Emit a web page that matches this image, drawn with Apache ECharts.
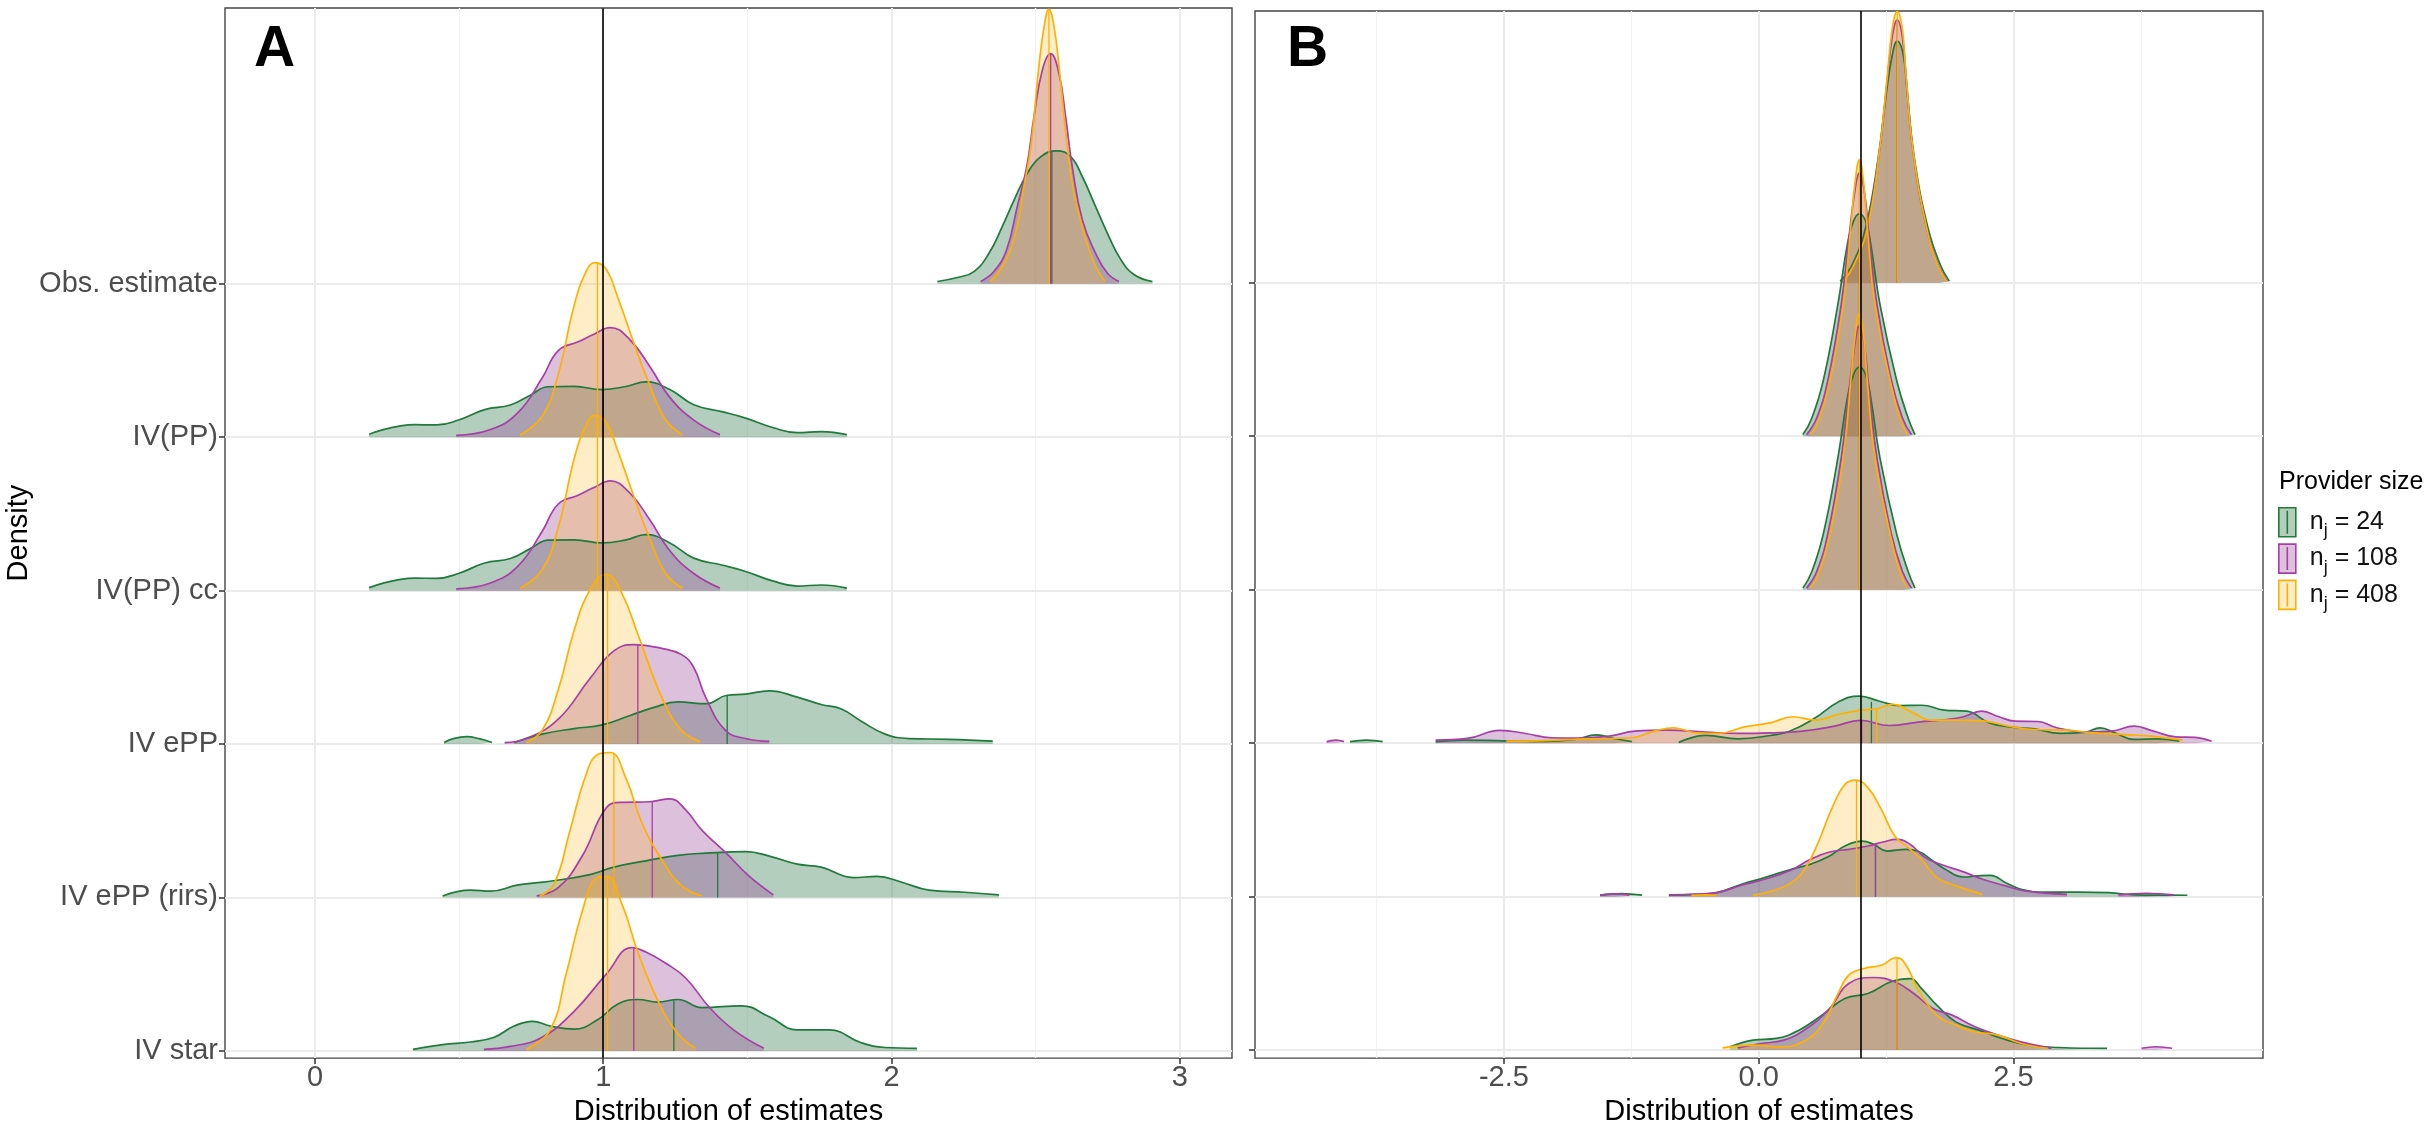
<!DOCTYPE html>
<html>
<head>
<meta charset="utf-8">
<title>Distribution of estimates</title>
<script src="https://cdn.jsdelivr.net/npm/echarts@6/dist/echarts.min.js"></script>
<style>
  html, body { margin: 0; padding: 0; background: #fff; }
  #chart { width: 2436px; height: 1131px; }
</style>
</head>
<body>
<div id="chart"></div>
<script>
// row labels, bottom (0) to top (5)
var rowNames = ['IV star', 'IV ePP (rirs)', 'IV ePP', 'IV(PP) cc', 'IV(PP)', 'Obs. estimate'];
var rowTicks = [0, 1, 2, 3, 4, 5];
var groupNames = ['n_j = 24', 'n_j = 108', 'n_j = 408'];
var groupSizes = ['24', '108', '408'];
var ticksA = [0, 1, 2, 3];
var minorA = [0.5, 1.5, 2.5];
var ticksB = [-2.5, 0, 2.5];
var minorB = [-3.75, -1.25, 1.25, 3.75];
var trueValue = 1;

// density ridges: [estimate, height above the row baseline]; null = gap
// ---- panel A
var aObsG = [[2.159,0.015],[2.228,0.041],[2.286,0.08],[2.338,0.199],[2.384,0.373],[2.425,0.546],[2.471,0.72],[2.517,0.828],[2.573,0.867],[2.622,0.828],[2.662,0.698],[2.703,0.525],[2.749,0.329],[2.796,0.156],[2.842,0.059],[2.905,0.015]];
var aObsP = [[2.309,0.015],[2.355,0.08],[2.399,0.221],[2.436,0.503],[2.469,0.763],[2.494,1.088],[2.523,1.392],[2.552,1.5],[2.581,1.37],[2.604,1.088],[2.627,0.763],[2.662,0.416],[2.708,0.199],[2.749,0.069],[2.789,0.015]];
var aObsY = [[2.341,0.015],[2.384,0.113],[2.43,0.33],[2.459,0.633],[2.483,0.893],[2.511,1.414],[2.529,1.674],[2.546,1.79],[2.564,1.674],[2.581,1.414],[2.61,0.893],[2.633,0.59],[2.668,0.33],[2.703,0.134],[2.74,0.015]];

var aPPG = [[0.188,0.02],[0.346,0.082],[0.423,0.08],[0.498,0.112],[0.589,0.18],[0.678,0.21],[0.747,0.274],[0.81,0.329],[0.899,0.331],[0.996,0.311],[1.079,0.331],[1.148,0.361],[1.231,0.311],[1.314,0.212],[1.411,0.167],[1.494,0.125],[1.59,0.062],[1.673,0.03],[1.756,0.037],[1.845,0.017]];
var aPPP = [[0.49,0.012],[0.609,0.05],[0.705,0.162],[0.788,0.386],[0.844,0.565],[0.913,0.622],[0.968,0.672],[1.024,0.715],[1.093,0.635],[1.162,0.46],[1.231,0.26],[1.314,0.112],[1.405,0.017]];
var aPPY = [[0.711,0.015],[0.788,0.137],[0.844,0.411],[0.899,0.859],[0.94,1.078],[0.971,1.138],[1.01,1.096],[1.051,0.909],[1.107,0.61],[1.162,0.336],[1.217,0.112],[1.275,0.017]];

var aPPccG = [[0.188,0.02],[0.346,0.082],[0.423,0.08],[0.498,0.112],[0.589,0.18],[0.678,0.21],[0.747,0.274],[0.81,0.33],[0.899,0.331],[0.996,0.311],[1.079,0.331],[1.148,0.365],[1.231,0.311],[1.314,0.212],[1.411,0.167],[1.494,0.125],[1.59,0.062],[1.673,0.03],[1.756,0.037],[1.845,0.017]];
var aPPccP = [[0.49,0.012],[0.609,0.05],[0.705,0.162],[0.788,0.386],[0.844,0.565],[0.913,0.622],[0.968,0.672],[1.024,0.715],[1.093,0.635],[1.162,0.46],[1.231,0.26],[1.314,0.112],[1.405,0.017]];
var aPPccY = [[0.711,0.015],[0.788,0.137],[0.844,0.411],[0.899,0.859],[0.94,1.078],[0.971,1.143],[1.01,1.096],[1.051,0.909],[1.107,0.61],[1.162,0.336],[1.217,0.112],[1.275,0.017]];

var aEPPG = [[0.448,0.01],[0.48,0.035],[0.526,0.048],[0.57,0.035],[0.614,0.01],null,[0.691,0.01],[0.788,0.065],[0.899,0.101],[0.996,0.125],[1.093,0.186],[1.176,0.239],[1.259,0.275],[1.355,0.263],[1.43,0.318],[1.494,0.325],[1.576,0.347],[1.673,0.306],[1.756,0.258],[1.826,0.229],[1.895,0.149],[1.978,0.065],[2.061,0.036],[2.199,0.031],[2.351,0.019]];
var aEPPP = [[0.658,0.01],[0.733,0.036],[0.844,0.162],[0.954,0.427],[1.037,0.607],[1.107,0.648],[1.203,0.624],[1.272,0.583],[1.314,0.499],[1.355,0.306],[1.424,0.089],[1.494,0.036],[1.576,0.017]];
var aEPPY = [[0.733,0.01],[0.788,0.089],[0.844,0.354],[0.899,0.74],[0.954,1.005],[1.01,1.107],[1.065,0.981],[1.12,0.716],[1.203,0.306],[1.272,0.089],[1.336,0.017]];

var aRirsG = [[0.443,0.01],[0.54,0.048],[0.609,0.041],[0.705,0.082],[0.816,0.106],[0.954,0.149],[1.037,0.198],[1.148,0.239],[1.259,0.275],[1.355,0.289],[1.494,0.299],[1.576,0.27],[1.673,0.217],[1.756,0.198],[1.867,0.13],[1.95,0.137],[2.033,0.101],[2.13,0.048],[2.254,0.034],[2.373,0.017]];
var aRirsP = [[0.769,0.01],[0.844,0.065],[0.927,0.27],[1.01,0.583],[1.065,0.62],[1.162,0.624],[1.231,0.643],[1.286,0.571],[1.342,0.439],[1.424,0.294],[1.507,0.137],[1.59,0.017]];
var aRirsY = [[0.78,0.01],[0.83,0.089],[0.885,0.439],[0.94,0.8],[0.982,0.933],[1.024,0.945],[1.079,0.776],[1.134,0.487],[1.203,0.246],[1.272,0.077],[1.342,0.01]];

var aStarG = [[0.34,0.01],[0.443,0.041],[0.54,0.058],[0.622,0.089],[0.691,0.162],[0.755,0.193],[0.816,0.162],[0.899,0.142],[0.982,0.205],[1.051,0.306],[1.12,0.335],[1.189,0.318],[1.259,0.335],[1.342,0.282],[1.48,0.294],[1.576,0.222],[1.673,0.137],[1.784,0.137],[1.895,0.053],[1.978,0.022],[2.088,0.017]];
var aStarP = [[0.586,0.01],[0.678,0.029],[0.788,0.089],[0.899,0.258],[1.01,0.499],[1.1,0.673],[1.148,0.644],[1.217,0.571],[1.286,0.475],[1.369,0.282],[1.452,0.137],[1.557,0.017]];
var aStarY = [[0.733,0.01],[0.816,0.137],[0.871,0.499],[0.927,0.909],[0.976,1.126],[1.01,1.138],[1.065,0.957],[1.12,0.644],[1.189,0.33],[1.259,0.113],[1.32,0.017]];

// medians [estimate, height] for green, purple, yellow
var aMedObs = [[2.556,0.86],[2.552,1.5],[2.546,1.79]];
var aMedPP = [[1.0,0.31],[1.0,0.7],[0.98,1.13]];
var aMedPPcc = [[1.0,0.31],[1.0,0.7],[0.98,1.13]];
var aMedEPP = [[1.43,0.318],[1.12,0.645],[1.015,1.1]];
var aMedRirs = [[1.397,0.29],[1.17,0.625],[1.037,0.935]];
var aMedStar = [[1.245,0.33],[1.106,0.67],[1.015,1.13]];

// ---- panel B
var bObsG = [[0.8,0.01],[0.92,0.12],[1.05,0.36],[1.17,0.8],[1.25,1.22],[1.31,1.48],[1.36,1.574],[1.42,1.48],[1.46,1.22],[1.53,0.8],[1.66,0.36],[1.78,0.12],[1.87,0.01]];
var bObsP = [[0.82,0.01],[0.93,0.11],[1.06,0.35],[1.18,0.83],[1.26,1.31],[1.31,1.6],[1.36,1.713],[1.41,1.6],[1.45,1.31],[1.52,0.83],[1.65,0.35],[1.765,0.11],[1.85,0.01]];
var bObsY = [[0.83,0.01],[0.928,0.106],[1.066,0.354],[1.184,0.85],[1.262,1.346],[1.31,1.65],[1.36,1.768],[1.41,1.65],[1.446,1.346],[1.517,0.85],[1.649,0.354],[1.763,0.106],[1.845,0.01]];

var bPPG = [[0.434,0.01],[0.52,0.115],[0.634,0.363],[0.777,0.859],[0.87,1.25],[0.93,1.4],[0.988,1.449],[1.05,1.4],[1.1,1.25],[1.19,0.859],[1.354,0.363],[1.468,0.115],[1.534,0.01]];
var bPPP = [[0.47,0.01],[0.57,0.12],[0.68,0.37],[0.81,0.86],[0.89,1.32],[0.94,1.58],[0.988,1.714],[1.04,1.58],[1.08,1.32],[1.16,0.86],[1.3,0.37],[1.41,0.12],[1.5,0.01]];
var bPPY = [[0.51,0.01],[0.595,0.115],[0.7,0.363],[0.83,0.859],[0.903,1.354],[0.945,1.65],[0.988,1.8],[1.03,1.65],[1.066,1.354],[1.141,0.859],[1.289,0.363],[1.387,0.115],[1.46,0.01]];

var bPPccG = [[0.434,0.01],[0.52,0.115],[0.634,0.363],[0.777,0.859],[0.87,1.25],[0.93,1.4],[0.988,1.45],[1.05,1.4],[1.1,1.25],[1.19,0.859],[1.354,0.363],[1.468,0.115],[1.534,0.01]];
var bPPccP = [[0.47,0.01],[0.57,0.12],[0.68,0.37],[0.81,0.86],[0.89,1.32],[0.94,1.58],[0.988,1.72],[1.04,1.58],[1.08,1.32],[1.16,0.86],[1.3,0.37],[1.41,0.12],[1.5,0.01]];
var bPPccY = [[0.51,0.01],[0.595,0.115],[0.7,0.363],[0.83,0.859],[0.903,1.354],[0.945,1.65],[0.988,1.8],[1.03,1.65],[1.066,1.354],[1.141,0.859],[1.289,0.363],[1.387,0.115],[1.46,0.01]];

var bEPPG = [[-4.01,0.01],[-3.85,0.02],[-3.69,0.01],null,[-3.17,0.01],[-2.9,0.02],[-2.5,0.015],[-2.1,0.012],[-1.8,0.025],[-1.593,0.054],[-1.42,0.03],[-1.245,0.01],null,[-0.784,0.005],[-0.518,0.05],[-0.203,0.028],[0.114,0.05],[0.303,0.078],[0.556,0.165],[0.777,0.267],[0.986,0.306],[1.188,0.273],[1.378,0.245],[1.6,0.247],[1.82,0.215],[2.042,0.208],[2.263,0.132],[2.485,0.104],[2.706,0.093],[2.958,0.063],[3.211,0.072],[3.35,0.1],[3.496,0.067],[3.685,0.024],[3.907,0.028],[4.128,0.013]];
var bEPPP = [[-4.24,0.01],[-4.15,0.02],[-4.07,0.01],null,[-3.17,0.02],[-2.857,0.031],[-2.54,0.083],[-2.288,0.063],[-2.035,0.035],[-1.783,0.033],[-1.466,0.046],[-1.214,0.078],[-0.898,0.085],[-0.518,0.072],[-0.203,0.063],[0.114,0.067],[0.43,0.078],[0.746,0.111],[0.999,0.148],[1.284,0.115],[1.567,0.137],[1.852,0.154],[2.01,0.172],[2.187,0.208],[2.358,0.172],[2.515,0.143],[2.737,0.141],[2.927,0.1],[3.211,0.072],[3.464,0.078],[3.685,0.111],[3.874,0.078],[4.095,0.041],[4.285,0.037],[4.444,0.013]];
var bEPPY = [[-2.478,0.013],[-2.098,0.017],[-1.656,0.028],[-1.245,0.035],[-1.024,0.078],[-0.834,0.1],[-0.613,0.067],[-0.392,0.063],[-0.139,0.106],[0.114,0.132],[0.335,0.172],[0.556,0.15],[0.777,0.187],[0.999,0.215],[1.157,0.224],[1.315,0.252],[1.504,0.202],[1.694,0.15],[1.946,0.15],[2.199,0.145],[2.452,0.111],[2.706,0.089],[3.022,0.085],[3.275,0.067],[3.591,0.056],[3.843,0.046],[4.159,0.02]];

var bRirsG = [[-1.557,0.01],[-1.35,0.02],[-1.145,0.01],null,[-0.881,0.01],[-0.6,0.015],[-0.412,0.026],[-0.168,0.081],[0.058,0.124],[0.321,0.178],[0.508,0.211],[0.696,0.265],[0.846,0.33],[1.015,0.362],[1.128,0.341],[1.259,0.297],[1.447,0.308],[1.56,0.297],[1.71,0.232],[1.822,0.182],[2.01,0.128],[2.142,0.135],[2.274,0.139],[2.424,0.091],[2.574,0.048],[2.762,0.03],[3.137,0.03],[3.437,0.026],[3.7,0.012],[4.0,0.01],[4.207,0.009]];
var bRirsP = [[-1.557,0.01],[-1.42,0.018],[-1.27,0.01],null,[-0.881,0.012],[-0.6,0.017],[-0.412,0.026],[-0.168,0.074],[0.058,0.113],[0.321,0.174],[0.508,0.243],[0.696,0.291],[0.884,0.308],[1.072,0.33],[1.222,0.356],[1.353,0.373],[1.485,0.341],[1.635,0.254],[1.785,0.211],[2.01,0.161],[2.198,0.113],[2.424,0.07],[2.611,0.037],[3.025,0.015],null,[3.53,0.012],[3.8,0.022],[4.076,0.012]];
var bRirsY = [[-0.66,0.008],[-0.53,0.012],[-0.41,0.008],null,[-0.055,0.01],[0.133,0.037],[0.321,0.091],[0.451,0.178],[0.583,0.351],[0.714,0.568],[0.846,0.731],[0.951,0.759],[1.072,0.71],[1.203,0.568],[1.335,0.395],[1.447,0.33],[1.598,0.243],[1.748,0.124],[1.935,0.07],[2.198,0.015]];

var bStarG = [[-0.281,0.022],[-0.055,0.065],[0.17,0.076],[0.395,0.13],[0.621,0.228],[0.846,0.336],[1.072,0.369],[1.297,0.445],[1.485,0.466],[1.598,0.401],[1.748,0.293],[1.935,0.184],[2.161,0.13],[2.386,0.076],[2.649,0.033],[2.949,0.017],[3.419,0.011]];
var bStarP = [[-0.205,0.015],[0.02,0.043],[0.245,0.065],[0.471,0.141],[0.696,0.271],[0.884,0.434],[1.128,0.473],[1.335,0.445],[1.522,0.369],[1.71,0.271],[1.898,0.228],[2.123,0.152],[2.348,0.098],[2.574,0.054],[2.874,0.011],null,[3.757,0.012],[3.9,0.022],[4.057,0.012]];
var bStarY = [[-0.355,0.015],[-0.055,0.033],[0.208,0.022],[0.433,0.054],[0.621,0.163],[0.771,0.358],[0.884,0.488],[1.034,0.532],[1.203,0.553],[1.353,0.603],[1.447,0.553],[1.56,0.401],[1.748,0.228],[1.935,0.163],[2.123,0.119],[2.348,0.098],[2.574,0.043],[2.837,0.011]];

var bMedObs = [[1.36,1.57],[1.36,1.71],[1.36,1.76]];
var bMedPP = [[0.99,1.445],[0.99,1.71],[0.99,1.795]];
var bMedPPcc = [[0.99,1.445],[0.99,1.71],[0.99,1.795]];
var bMedEPP = [[1.106,0.27],[1.01,0.148],[1.157,0.224]];
var bMedRirs = [[1.146,0.34],[1.146,0.35],[0.96,0.758]];
var bMedStar = [[1.357,0.45],[1.357,0.44],[1.357,0.603]];

// rows drawn top to bottom so lower ridges lie over upper ones
var rowsA = [
  [5, [aObsG, aObsP, aObsY], aMedObs],
  [4, [aPPG, aPPP, aPPY], aMedPP],
  [3, [aPPccG, aPPccP, aPPccY], aMedPPcc],
  [2, [aEPPG, aEPPP, aEPPY], aMedEPP],
  [1, [aRirsG, aRirsP, aRirsY], aMedRirs],
  [0, [aStarG, aStarP, aStarY], aMedStar]
];
var rowsB = [
  [5, [bObsG, bObsP, bObsY], bMedObs],
  [4, [bPPG, bPPP, bPPY], bMedPP],
  [3, [bPPccG, bPPccP, bPPccY], bMedPPcc],
  [2, [bEPPG, bEPPP, bEPPY], bMedEPP],
  [1, [bRirsG, bRirsP, bRirsY], bMedRirs],
  [0, [bStarG, bStarP, bStarY], bMedStar]
];

var strokeCols = ['#1F7A3C', '#A63FA6', '#FFB000'];
var fillCols = ['rgba(46,120,72,0.36)', 'rgba(155,75,155,0.35)', 'rgba(255,185,30,0.25)'];
var FONT = 'Liberation Sans';

function ridge(pts, row) {
  return pts.map(function (p) { return p ? [p[0], row + p[1]] : ['-', '-']; });
}

function gridLines(panel, majors, minors) {
  var items = [];
  majors.forEach(function (v) { items.push({ xAxis: v, lineStyle: { color: '#EBEBEB', width: 2, type: 'solid' } }); });
  minors.forEach(function (v) { items.push({ xAxis: v, lineStyle: { color: '#F2F2F2', width: 1.2, type: 'solid' } }); });
  rowTicks.forEach(function (v) { items.push({ yAxis: v, lineStyle: { color: '#EBEBEB', width: 2, type: 'solid' } }); });
  return {
    type: 'line', xAxisIndex: panel, yAxisIndex: panel, data: [[majors[0], 0]],
    symbol: 'none', lineStyle: { width: 0 }, silent: true, z: 1,
    markLine: { silent: true, z: 1, symbol: ['none', 'none'], label: { show: false }, animation: false, data: items }
  };
}

function refLine(panel) {
  return {
    type: 'line', xAxisIndex: panel, yAxisIndex: panel, data: [[trueValue, 0]],
    symbol: 'none', lineStyle: { width: 0 }, silent: true, z: 10,
    markLine: {
      silent: true, z: 10, symbol: ['none', 'none'], label: { show: false }, animation: false,
      data: [{ xAxis: trueValue, lineStyle: { color: '#000', width: 1.6, type: 'solid' } }]
    }
  };
}

var series = [gridLines(0, ticksA, minorA), gridLines(1, ticksB, minorB)];

[rowsA, rowsB].forEach(function (rows, panel) {
  rows.forEach(function (r) {
    var row = r[0];
    r[1].forEach(function (pts, g) {
      series.push({
        type: 'line', name: groupNames[g], xAxisIndex: panel, yAxisIndex: panel,
        data: ridge(pts, row), smooth: 0.45,
        symbol: 'none', showSymbol: false, connectNulls: false, silent: true, z: 2,
        lineStyle: { color: strokeCols[g], width: 1.7 },
        itemStyle: { color: strokeCols[g] },
        areaStyle: { color: fillCols[g], opacity: 1, origin: row },
        emphasis: { disabled: true }
      });
      var m = r[2][g];
      series.push({
        type: 'line', name: groupNames[g], xAxisIndex: panel, yAxisIndex: panel,
        data: [[m[0], row], [m[0], row + m[1]]],
        symbol: 'none', showSymbol: false, silent: true, z: 2,
        lineStyle: { color: strokeCols[g], width: 1.3 },
        itemStyle: { color: strokeCols[g] },
        emphasis: { disabled: true }
      });
    });
  });
});

series.push(refLine(0), refLine(1));

var tickStyle = { color: '#333', width: 1.5 };

var option = {
  animation: false,
  backgroundColor: '#fff',
  textStyle: { fontFamily: FONT },
  title: [
    { text: 'A', left: 254, top: 22, padding: 0, textStyle: { fontSize: 57, fontWeight: 'bold', color: '#000', fontFamily: FONT } },
    { text: 'B', left: 1287, top: 22, padding: 0, textStyle: { fontSize: 57, fontWeight: 'bold', color: '#000', fontFamily: FONT } },
    { text: 'Provider size', left: 2279, top: 470, padding: 0, textStyle: { fontSize: 25, fontWeight: 'normal', color: '#000', fontFamily: FONT } }
  ],
  legend: {
    orient: 'vertical', left: 2278, top: 507, padding: 0,
    itemWidth: 17, itemHeight: 29, itemGap: 3, selectedMode: false,
    data: groupNames.map(function (n, g) {
      return {
        name: n,
        icon: 'path://M0,0L17,0L17,29L0,29Z M8.5,3L8.5,26',
        itemStyle: { color: fillCols[g], borderColor: strokeCols[g], borderWidth: 1.6 }
      };
    }),
    formatter: function (name) {
      return '{n|n}{s|j}{n| = ' + groupSizes[groupNames.indexOf(name)] + '}';
    },
    textStyle: {
      padding: [0, 0, 0, 9],
      rich: {
        n: { fontSize: 25, lineHeight: 36, color: '#111', fontFamily: FONT },
        s: { fontSize: 18, lineHeight: 22, verticalAlign: 'bottom', color: '#111', fontFamily: FONT }
      }
    }
  },
  grid: [
    { left: 225, top: 8, width: 1007, height: 1052, show: true, borderColor: '#444', borderWidth: 1.4, backgroundColor: '#fff' },
    { left: 1255, top: 11, width: 1008, height: 1052, show: true, borderColor: '#444', borderWidth: 1.4, backgroundColor: '#fff' }
  ],
  xAxis: [
    {
      gridIndex: 0, type: 'value', min: -0.312, max: 3.181,
      axisLine: { show: false, onZero: false }, splitLine: { show: false },
      axisTick: { show: true, customValues: ticksA, length: 6, lineStyle: tickStyle },
      axisLabel: { customValues: ticksA, fontSize: 29, color: '#4D4D4D', margin: 5 },
      name: 'Distribution of estimates', nameLocation: 'middle', nameGap: 33,
      nameTextStyle: { fontSize: 29, color: '#000' }
    },
    {
      gridIndex: 1, type: 'value', min: -4.943, max: 4.949,
      axisLine: { show: false, onZero: false }, splitLine: { show: false },
      axisTick: { show: true, customValues: ticksB, length: 6, lineStyle: tickStyle },
      axisLabel: { customValues: ticksB, fontSize: 29, color: '#4D4D4D', margin: 5,
        formatter: function (v) { return v.toFixed(1); } },
      name: 'Distribution of estimates', nameLocation: 'middle', nameGap: 33,
      nameTextStyle: { fontSize: 29, color: '#000' }
    }
  ],
  yAxis: [
    {
      gridIndex: 0, type: 'value', min: -0.047, max: 6.798,
      axisLine: { show: false, onZero: false }, splitLine: { show: false },
      axisTick: { show: true, customValues: rowTicks, length: 6, lineStyle: tickStyle },
      axisLabel: { customValues: rowTicks, fontSize: 29, color: '#4D4D4D', margin: 7,
        formatter: function (v) { return rowNames[Math.round(v)]; } },
      name: 'Density', nameLocation: 'middle', nameGap: 192, nameRotate: 90,
      nameTextStyle: { fontSize: 29, color: '#000' }
    },
    {
      gridIndex: 1, type: 'value', min: -0.052, max: 6.77,
      axisLine: { show: false, onZero: false }, splitLine: { show: false },
      axisTick: { show: true, customValues: rowTicks, length: 6, lineStyle: tickStyle },
      axisLabel: { show: false }
    }
  ],
  series: series
};

var chart = echarts.init(document.getElementById('chart'));
chart.setOption(option);
</script>
</body>
</html>
